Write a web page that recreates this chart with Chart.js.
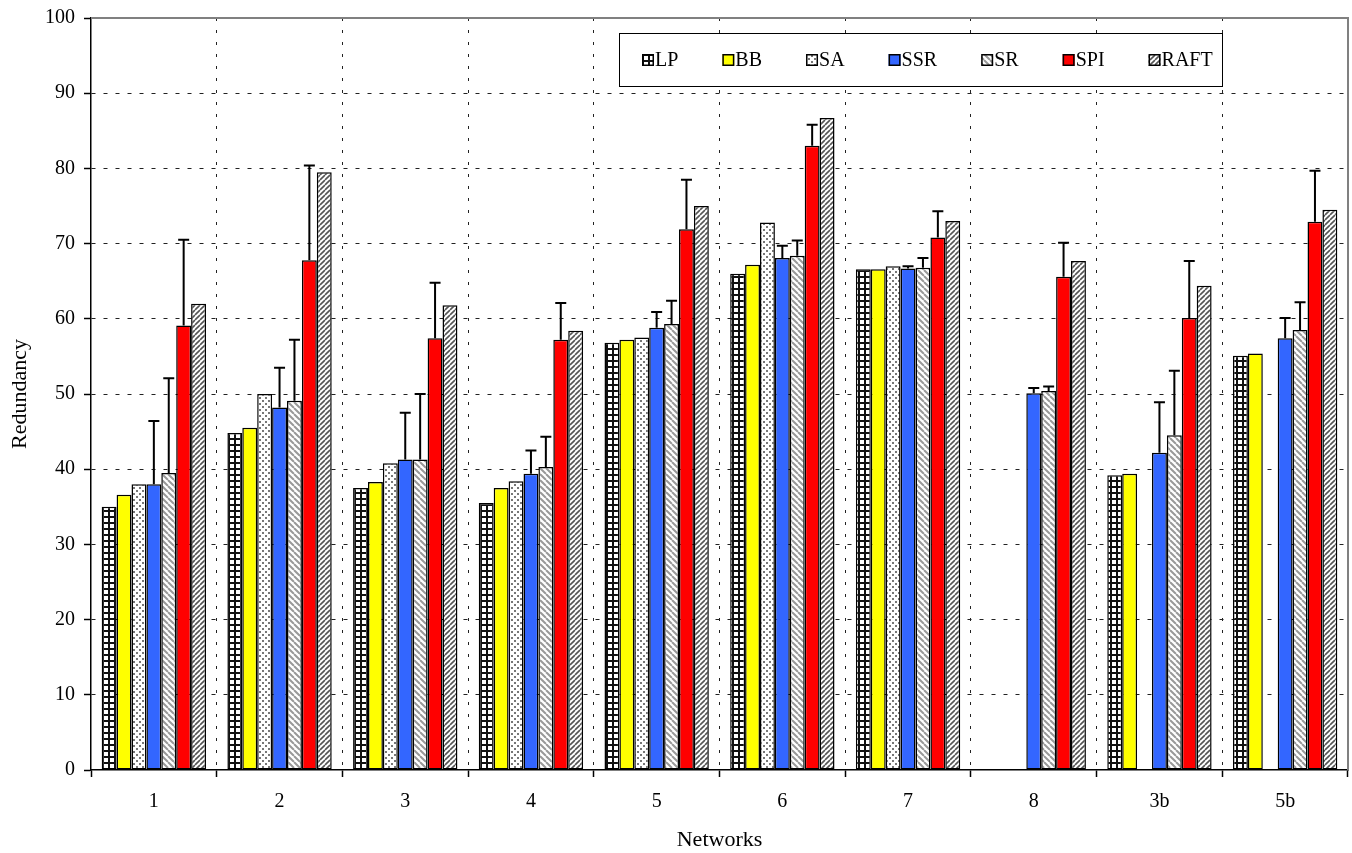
<!DOCTYPE html>
<html>
<head>
<meta charset="utf-8">
<title>Redundancy by network</title>
<script src="https://cdn.jsdelivr.net/npm/chart.js@4.4.0/dist/chart.umd.min.js"></script>
<style>
  html, body { margin: 0; padding: 0; background: #fff; }
</style>
</head>
<body>
<canvas id="chart" width="1352" height="853"></canvas>
<script>
'use strict';

// categories on the x axis
const networks = ['1', '2', '3', '4', '5', '6', '7', '8', '3b', '5b'];
const yTicks = [0, 10, 20, 30, 40, 50, 60, 70, 80, 90, 100];

// bar heights per method
const lpValues   = [35.0, 44.8, 37.5, 35.5, 56.8, 66.0, 66.6, null, 39.2, 55.1];
const bbValues   = [36.6, 45.5, 38.3, 37.5, 57.2, 67.2, 66.6, null, 39.4, 55.4];
const saValues   = [38.0, 50.0, 40.8, 38.4, 57.5, 72.8, 67.0, null, null, null];
const ssrValues  = [38.0, 48.2, 41.3, 39.4, 58.8, 68.1, 66.7, 50.1, 42.2, 57.4];
const srValues   = [39.5, 49.1, 41.3, 40.3, 59.3, 68.4, 66.8, 50.4, 44.5, 58.5];
const spiValues  = [59.1, 67.8, 57.4, 57.2, 71.9, 83.0, 70.8, 65.6, 60.1, 72.9];
const raftValues = [62.0, 79.5, 61.8, 58.4, 75.0, 86.7, 73.0, 67.7, 64.4, 74.5];

// upper end of the error bars (only the randomised methods have them)
const ssrErrTop = [46.4, 53.5, 47.5, 42.5, 60.9, 69.7, 67.0, 50.8, 48.9, 60.1];
const srErrTop  = [52.1, 57.2, 50.0, 44.3, 62.4, 70.4, 68.1, 51.0, 53.1, 62.2];
const spiErrTop = [70.5, 80.4, 64.8, 62.1, 78.5, 85.8, 74.3, 70.1, 67.7, 79.7];

const serif = '"Liberation Serif", "Times New Roman", serif';

/**
 * Build a repeating fill from a small tile
 */
function makePattern(size, paint) {
    const tile = document.createElement('canvas');
    tile.width = size;
    tile.height = size;
    const g = tile.getContext('2d');
    g.fillStyle = '#fff';
    g.fillRect(0, 0, size, size);
    paint(g, size);
    return g.createPattern(tile, 'repeat');
}

const gridFill = makePattern(6, function (g, s) {
    g.fillStyle = '#111';
    g.fillRect(0, 0, s, 2);
    g.fillRect(0, 0, 2, s);
});

const dotFill = makePattern(6, function (g) {
    g.fillStyle = '#777';
    g.fillRect(1, 1, 2, 2);
    g.fillRect(4, 4, 2, 2);
});

const backHatch = makePattern(6, function (g, s) {
    g.strokeStyle = '#999';
    g.lineWidth = 2;
    g.beginPath();
    for (let k = -s; k <= s; k += s) {
        g.moveTo(k, 0);
        g.lineTo(k + s, s);
    }
    g.stroke();
});

const fwdHatch = makePattern(5, function (g, s) {
    g.strokeStyle = '#555';
    g.lineWidth = 1.6;
    g.beginPath();
    for (let k = -s; k <= 2 * s; k += s) {
        g.moveTo(k, s);
        g.lineTo(k + s, 0);
    }
    g.stroke();
});

function series(label, data, fill, errTop) {
    return {
        label: label,
        data: data,
        backgroundColor: fill,
        borderColor: '#000',
        borderWidth: 1.5,
        borderSkipped: false,
        errTop: errTop || null
    };
}

// error bars drawn on top of each bar
const errorBars = {
    id: 'errorBars',
    afterDatasetsDraw: function (chart) {
        const ctx = chart.ctx;
        const yScale = chart.scales.y;
        ctx.save();
        ctx.strokeStyle = '#000';
        ctx.lineWidth = 2;
        chart.data.datasets.forEach(function (ds, i) {
            if (!ds.errTop) return;
            const meta = chart.getDatasetMeta(i);
            meta.data.forEach(function (bar, j) {
                const top = ds.errTop[j];
                if (top == null || ds.data[j] == null) return;
                const yTop = yScale.getPixelForValue(top);
                ctx.beginPath();
                ctx.moveTo(bar.x, bar.y);
                ctx.lineTo(bar.x, yTop);
                ctx.moveTo(bar.x - 5.5, yTop);
                ctx.lineTo(bar.x + 5.5, yTop);
                ctx.stroke();
            });
        });
        ctx.restore();
    }
};

// grey frame on top and right plus the boxed legend inside the plot
const frameAndLegend = {
    id: 'frameAndLegend',
    afterDraw: function (chart) {
        const ctx = chart.ctx;
        const a = chart.chartArea;
        ctx.save();
        ctx.strokeStyle = '#808080';
        ctx.lineWidth = 2;
        ctx.beginPath();
        ctx.moveTo(a.left, a.top);
        ctx.lineTo(a.right, a.top);
        ctx.lineTo(a.right, a.bottom);
        ctx.stroke();

        // legend box
        const box = { left: 619, top: 33, right: 1222, bottom: 86 };
        ctx.fillStyle = '#fff';
        ctx.fillRect(box.left, box.top, box.right - box.left, box.bottom - box.top);
        ctx.strokeStyle = '#000';
        ctx.lineWidth = 1;
        ctx.strokeRect(box.left + 0.5, box.top + 0.5, box.right - box.left, box.bottom - box.top);

        ctx.font = '20px ' + serif;
        ctx.textBaseline = 'middle';
        const cy = 60;
        let x = 642;
        chart.data.datasets.forEach(function (ds) {
            ctx.fillStyle = ds.backgroundColor;
            ctx.fillRect(x, cy - 6, 12, 12);
            ctx.strokeStyle = '#000';
            ctx.lineWidth = 1.5;
            ctx.strokeRect(x + 0.75, cy - 5.25, 10.5, 10.5);
            ctx.fillStyle = '#000';
            ctx.fillText(ds.label, x + 13, cy + 1);
            x += 13 + ctx.measureText(ds.label).width + 44;
        });
        ctx.restore();
    }
};

const ctx = document.getElementById('chart').getContext('2d');

Chart.defaults.font.family = serif;
Chart.defaults.font.size = 20;
Chart.defaults.color = '#000';

const chart = new Chart(ctx, {
    type: 'bar',
    data: {
        labels: networks,
        datasets: [
            series('LP', lpValues, gridFill),
            series('BB', bbValues, '#ffff00'),
            series('SA', saValues, dotFill),
            series('SSR', ssrValues, '#3366ff', ssrErrTop),
            series('SR', srValues, backHatch, srErrTop),
            series('SPI', spiValues, '#ff0000', spiErrTop),
            series('RAFT', raftValues, fwdHatch)
        ]
    },
    options: {
        responsive: false,
        animation: false,
        devicePixelRatio: 1,
        layout: {
            padding: { top: 18, right: 4, left: 0, bottom: 0 }
        },
        datasets: {
            bar: {
                categoryPercentage: 0.83,
                barPercentage: 1.0
            }
        },
        plugins: {
            legend: { display: false },
            tooltip: { enabled: false }
        },
        scales: {
            x: {
                grid: {
                    offset: true,
                    color: function (c) {
                        return (c.index === 0 || c.index === networks.length) ? 'rgba(0,0,0,0)' : '#222';
                    },
                    lineWidth: 1,
                    tickColor: '#000',
                    tickLength: 7,
                    tickWidth: 1.5
                },
                border: { color: '#000', width: 1.5, dash: [3, 9] },
                ticks: { padding: 13, font: { size: 20 } },
                title: {
                    display: true,
                    text: 'Networks',
                    font: { size: 22 },
                    padding: { top: 6, bottom: 0 }
                },
                afterFit: function (scale) { scale.height = 83; }
            },
            y: {
                min: 0,
                max: 100,
                afterBuildTicks: function (scale) {
                    scale.ticks = yTicks.map(function (v) { return { value: v }; });
                },
                grid: {
                    color: function (c) {
                        return (c.tick && (c.tick.value === 0 || c.tick.value === 100)) ? 'rgba(0,0,0,0)' : '#222';
                    },
                    lineWidth: 1,
                    tickColor: '#000',
                    tickLength: 7,
                    tickWidth: 1.5
                },
                border: { color: '#000', width: 1.5, dash: [4, 8] },
                ticks: { padding: 9, font: { size: 20 } },
                title: {
                    display: true,
                    text: 'Redundancy',
                    font: { size: 22 },
                    padding: { top: 7, bottom: 0 }
                },
                afterFit: function (scale) {
                    scale.width = 91;
                    scale.paddingTop = 0;
                    scale.paddingBottom = 0;
                }
            }
        }
    },
    plugins: [errorBars, frameAndLegend]
});
</script>
</body>
</html>
